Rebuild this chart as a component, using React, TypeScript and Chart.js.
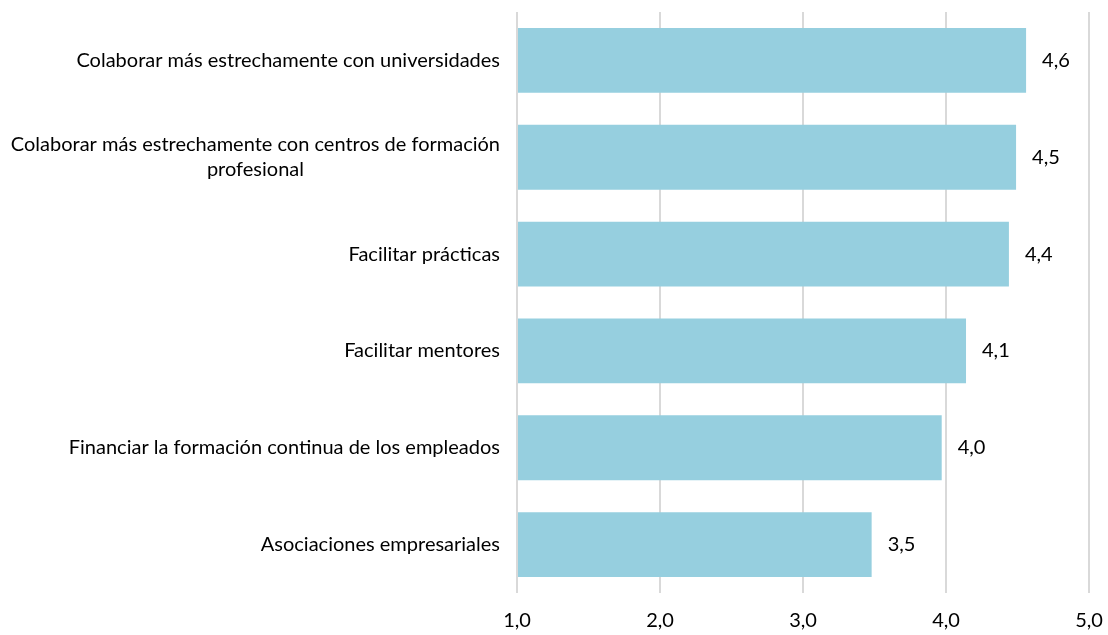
import React, { useEffect, useRef } from "react";
import { Chart, registerables } from "chart.js";

Chart.register(...registerables);

const categories: (string | string[])[] = [
  "Colaborar más estrechamente con universidades",
  ["Colaborar más estrechamente con centros de formación", "profesional"],
  "Facilitar prácticas",
  "Facilitar mentores",
  "Financiar la formación continua de los empleados",
  "Asociaciones empresariales",
];
const values: number[] = [4.56, 4.49, 4.44, 4.14, 3.97, 3.48];
const xMin = 1;
const xMax = 5;

const FONT = "Lato, 'Open Sans', sans-serif";
const FONT_SIZE = 20;

const fmt = (v: number) => (Math.round(v * 10) / 10).toFixed(1).replace(".", ",");

const labelPlugin = {
  id: "customLabels",
  afterDatasetsDraw(chart: any) {
    const ctx = chart.ctx;
    const meta = chart.getDatasetMeta(0);
    const yScale = chart.scales.y;
    ctx.save();
    ctx.font = `${FONT_SIZE}px ${FONT}`;
    ctx.fillStyle = "#000";
    ctx.textBaseline = "middle";
    meta.data.forEach((bar: any, i: number) => {
      ctx.textAlign = "left";
      ctx.fillText(fmt(values[i]), bar.x + 16, bar.y);
    });
    const right = yScale.right - 17;
    const lh = 25;
    categories.forEach((c, i) => {
      const lines = Array.isArray(c) ? c : [c];
      const y0 = yScale.getPixelForValue(i);
      const maxW = Math.max(...lines.map((l) => ctx.measureText(l).width));
      const cx = right - maxW / 2;
      ctx.textAlign = "center";
      lines.forEach((l, k) => {
        const y = y0 + (k - (lines.length - 1) / 2) * lh;
        ctx.fillText(l, cx, y);
      });
    });
    ctx.restore();
  },
};

export default function App() {
  const ref = useRef<HTMLCanvasElement>(null);
  useEffect(() => {
    if (!ref.current) return;
    const chart = new Chart(ref.current, {
      type: "bar",
      data: {
        labels: categories.map((c) => (Array.isArray(c) ? c.join(" ") : c)),
        datasets: [
          {
            data: values,
            backgroundColor: "#96CFDF",
            borderWidth: 0,
            barPercentage: 0.67,
            categoryPercentage: 1,
            base: xMin,
          },
        ],
      },
      options: {
        indexAxis: "y",
        responsive: false,
        animation: false,
        layout: { padding: { top: 12, right: 19, left: 0, bottom: 0 } },
        plugins: { legend: { display: false }, tooltip: { enabled: false } },
        scales: {
          x: {
            min: xMin,
            max: xMax,
            ticks: {
              stepSize: 1,
              color: "#000",
              font: { family: FONT, size: FONT_SIZE },
              padding: 16,
              maxRotation: 0,
              callback: (v: any) => fmt(Number(v)),
            },
            grid: { color: "#D9D9D9", lineWidth: 2, drawTicks: false },
            border: { display: false },
            afterFit: (s: any) => {
              s.height = 42;
              s.paddingLeft = 0;
              s.paddingRight = 0;
            },
          },
          y: {
            ticks: { display: false },
            grid: { display: false },
            border: { display: false },
            afterFit: (s: any) => {
              s.width = 517;
            },
          },
        },
      },
      plugins: [labelPlugin],
    });
    return () => chart.destroy();
  }, []);
  return (
    <div style={{ position: "absolute", left: 0, top: 0, width: 1108, height: 635, background: "#fff" }}>
      <canvas ref={ref} width={1108} height={635} />
    </div>
  );
}
